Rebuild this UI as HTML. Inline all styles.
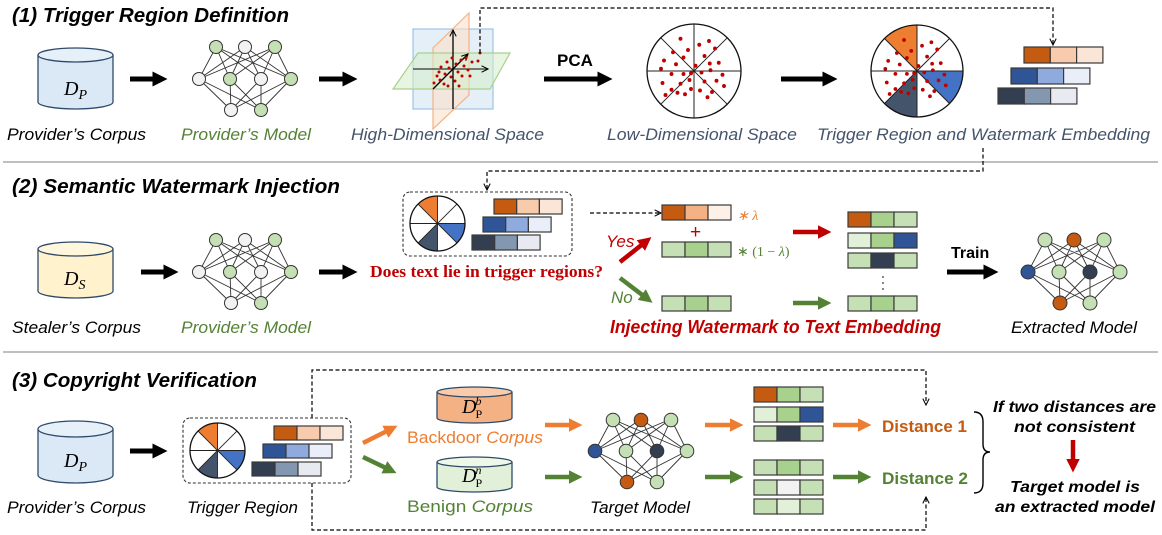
<!DOCTYPE html>
<html><head><meta charset="utf-8"><style>
html,body{margin:0;padding:0;background:#fff;}
svg{display:block;}
.t{font-family:"Liberation Sans",sans-serif;font-weight:bold;font-style:italic;font-size:20px;fill:#000;}
.l{font-family:"Liberation Sans",sans-serif;font-style:italic;font-size:17px;}
.m{font-family:"Liberation Serif",serif;font-style:italic;font-size:20px;}
.bar rect{stroke:#3a3a3a;stroke-width:1.2;}
</style></head><body>
<svg width="1162" height="535" viewBox="0 0 1162 535" xmlns="http://www.w3.org/2000/svg">
<defs>
<marker id="mb" viewBox="0 0 10 10" refX="3" refY="5" markerWidth="3" markerHeight="3" orient="auto" markerUnits="strokeWidth"><path d="M0,0 L10,5 L0,10 Z" fill="#000"/></marker>
<marker id="mo" viewBox="0 0 10 10" refX="3" refY="5" markerWidth="3" markerHeight="3" orient="auto" markerUnits="strokeWidth"><path d="M0,0 L10,5 L0,10 Z" fill="#ed7d31"/></marker>
<marker id="mg" viewBox="0 0 10 10" refX="3" refY="5" markerWidth="3" markerHeight="3" orient="auto" markerUnits="strokeWidth"><path d="M0,0 L10,5 L0,10 Z" fill="#548235"/></marker>
<marker id="mr" viewBox="0 0 10 10" refX="3" refY="5" markerWidth="3" markerHeight="3" orient="auto" markerUnits="strokeWidth"><path d="M0,0 L10,5 L0,10 Z" fill="#c00000"/></marker>
<marker id="md" viewBox="0 0 10 10" refX="9" refY="5" markerWidth="8" markerHeight="8" orient="auto" markerUnits="userSpaceOnUse"><path d="M1,1 L9,5 L1,9" fill="none" stroke="#000" stroke-width="1.3"/></marker>
<g id="nnl" stroke="#333" stroke-width="0.9">
<path d="M-29,-32 L-46,0 M-29,-32 L-15,0 M-29,-32 L16,0 M-29,-32 L46,0 M0,-32 L-46,0 M0,-32 L-15,0 M0,-32 L16,0 M0,-32 L46,0 M30,-32 L-46,0 M30,-32 L-15,0 M30,-32 L16,0 M30,-32 L46,0 M-46,0 L-14,31 M-46,0 L16,31 M-15,0 L-14,31 M-15,0 L16,31 M16,0 L-14,31 M16,0 L16,31 M46,0 L-14,31 M46,0 L16,31"/>
</g>
<g id="pie27">
<circle r="27.5" fill="#fff"/>
<path d="M0,0 L0,-27.5 A27.5,27.5 0 0,0 -19.45,-19.45 Z" fill="#ed7d31"/>
<path d="M0,0 L27.5,0 A27.5,27.5 0 0,1 19.45,19.45 Z" fill="#4472c4"/>
<path d="M0,0 L0,27.5 A27.5,27.5 0 0,1 -19.45,19.45 Z" fill="#44546a"/>
<path d="M-27.5,0 H27.5 M0,-27.5 V27.5 M-19.45,-19.45 L19.45,19.45 M19.45,-19.45 L-19.45,19.45" stroke="#222" stroke-width="0.9"/>
<circle r="27.5" fill="none" stroke="#111" stroke-width="1.3"/>
</g>
<g id="dots" fill="#c00000">
<circle cx="-18" cy="-43" r="2.6"/><circle cx="-8" cy="-28" r="2.6"/><circle cx="7" cy="-35" r="2.6"/><circle cx="20" cy="-40" r="2.6"/><circle cx="-28" cy="-25" r="2.6"/><circle cx="-40" cy="-14" r="2.6"/><circle cx="-24" cy="-9" r="2.6"/><circle cx="-14" cy="-18" r="2.6"/><circle cx="14" cy="-20" r="2.6"/><circle cx="28" cy="-30" r="2.6"/><circle cx="21" cy="-10" r="2.6"/><circle cx="33" cy="-11" r="2.6"/><circle cx="2" cy="-7" r="2.6"/><circle cx="-30" cy="4" r="2.6"/><circle cx="-44" cy="-3" r="2.6"/><circle cx="-14" cy="4" r="2.6"/><circle cx="-4" cy="3" r="2.6"/><circle cx="10" cy="2" r="2.6"/><circle cx="22" cy="-1" r="2.6"/><circle cx="38" cy="5" r="2.6"/><circle cx="-42" cy="16" r="2.6"/><circle cx="-18" cy="17" r="2.6"/><circle cx="-6" cy="12" r="2.6"/><circle cx="14" cy="14" r="2.6"/><circle cx="30" cy="13" r="2.6"/><circle cx="-30" cy="25" r="2.6"/><circle cx="-4" cy="24" r="2.6"/><circle cx="8" cy="26" r="2.6"/><circle cx="24" cy="28" r="2.6"/><circle cx="40" cy="20" r="2.6"/><circle cx="-22" cy="29" r="2.6"/><circle cx="-12" cy="31" r="2.6"/><circle cx="18" cy="35" r="2.6"/><circle cx="-38" cy="32" r="2.6"/></g>
</defs>

<!-- ============ SECTION 1 ============ -->
<text class="t" x="12" y="22" textLength="277" lengthAdjust="spacingAndGlyphs">(1) Trigger Region Definition</text>
<path d="M38,55 V102 A37.5,7 0 0,0 113,102 V55" fill="#dbe8f5" stroke="#2e4a6b" stroke-width="1.3"/>
<ellipse cx="75.5" cy="55" rx="37.5" ry="7" fill="#e6f0f9" stroke="#2e4a6b" stroke-width="1.3"/>
<text class="m" x="64" y="95">D<tspan font-size="14" dy="4">P</tspan></text>
<text class="l" x="7" y="140" textLength="139" lengthAdjust="spacingAndGlyphs">Provider’s Corpus</text>
<line x1="130" y1="79" x2="157" y2="79" stroke="#000" stroke-width="5" marker-end="url(#mb)"/>
<g transform="translate(245,79)"><use href="#nnl"/>
<g stroke="#333" stroke-width="1"><circle cx="-29" cy="-32" r="6.5" fill="#c5e0b4"/><circle cx="0" cy="-32" r="6.5" fill="#f2f2f2"/><circle cx="30" cy="-32" r="6.5" fill="#c5e0b4"/><circle cx="-46" cy="0" r="6.5" fill="#f2f2f2"/><circle cx="-15" cy="0" r="6.5" fill="#c5e0b4"/><circle cx="16" cy="0" r="6.5" fill="#f2f2f2"/><circle cx="46" cy="0" r="6.5" fill="#c5e0b4"/><circle cx="-14" cy="31" r="6.5" fill="#f2f2f2"/><circle cx="16" cy="31" r="6.5" fill="#c5e0b4"/></g></g>
<text class="l" x="181" y="140" fill="#548235" textLength="130" lengthAdjust="spacingAndGlyphs">Provider’s Model</text>
<line x1="319" y1="79" x2="347" y2="79" stroke="#000" stroke-width="5" marker-end="url(#mb)"/>
<rect x="413" y="29" width="80" height="80" fill="#dae8f5" fill-opacity="0.7" stroke="#9dc3e6" stroke-width="1.2"/>
<polygon points="433,48 469,13 469,95 433,129" fill="#fbe0cc" fill-opacity="0.6" stroke="#f4b183" stroke-width="1.2"/>
<polygon points="418,53 510,53 490,89 393,89" fill="#d6ecc9" fill-opacity="0.55" stroke="#a9d18e" stroke-width="1.2"/>
<line x1="413" y1="69" x2="488" y2="69" stroke="#333" stroke-width="1.3" marker-end="url(#md)"/>
<line x1="453" y1="109" x2="453" y2="30" stroke="#000" stroke-width="1.3" marker-end="url(#md)"/>
<line x1="433" y1="89" x2="468" y2="54" stroke="#000" stroke-width="1.3" marker-end="url(#md)"/>
<g fill="#c00000"><circle cx="440" cy="80" r="1.5"/><circle cx="445" cy="74" r="1.5"/><circle cx="449" cy="68" r="1.5"/><circle cx="456" cy="64" r="1.5"/><circle cx="461" cy="60" r="1.5"/><circle cx="464" cy="66" r="1.5"/><circle cx="458" cy="72" r="1.5"/><circle cx="451" cy="77" r="1.5"/><circle cx="444" cy="84" r="1.5"/><circle cx="437" cy="76" r="1.5"/><circle cx="441" cy="67" r="1.5"/><circle cx="447" cy="62" r="1.5"/><circle cx="455" cy="81" r="1.5"/><circle cx="462" cy="76" r="1.5"/><circle cx="468" cy="70" r="1.5"/><circle cx="472" cy="62" r="1.5"/><circle cx="478" cy="61" r="1.5"/><circle cx="434" cy="83" r="1.5"/><circle cx="448" cy="86" r="1.5"/><circle cx="459" cy="86" r="1.5"/><circle cx="466" cy="58" r="1.5"/><circle cx="452" cy="58" r="1.5"/><circle cx="439" cy="72" r="1.5"/><circle cx="470" cy="76" r="1.5"/><circle cx="480" cy="53" r="1.5"/></g>
<text class="l" x="351" y="140" fill="#44546a" textLength="193" lengthAdjust="spacingAndGlyphs">High-Dimensional Space</text>
<text x="557" y="66" font-family="Liberation Sans,sans-serif" font-weight="bold" font-size="17">PCA</text>
<line x1="544" y1="79" x2="602" y2="79" stroke="#000" stroke-width="5" marker-end="url(#mb)"/>
<g transform="translate(694,71)"><circle r="47" fill="#fff" stroke="#111" stroke-width="1.3"/>
<path d="M-47,0 H47 M0,-47 V47 M-33.2,-33.2 L33.2,33.2 M33.2,-33.2 L-33.2,33.2" stroke="#222" stroke-width="1"/><g transform="scale(0.75)"><use href="#dots"/></g></g>
<text class="l" x="607" y="140" fill="#44546a" textLength="190" lengthAdjust="spacingAndGlyphs">Low-Dimensional Space</text>
<line x1="781" y1="79" x2="827" y2="79" stroke="#000" stroke-width="5" marker-end="url(#mb)"/>
<g transform="translate(917,71)"><circle r="46" fill="#fff"/>
<path d="M0,0 L0,-46 A46,46 0 0,0 -32.5,-32.5 Z" fill="#ed7d31"/>
<path d="M0,0 L46,0 A46,46 0 0,1 32.5,32.5 Z" fill="#4472c4"/>
<path d="M0,0 L0,46 A46,46 0 0,1 -32.5,32.5 Z" fill="#44546a"/>
<path d="M-46,0 H46 M0,-46 V46 M-32.5,-32.5 L32.5,32.5 M32.5,-32.5 L-32.5,32.5" stroke="#222" stroke-width="1"/>
<circle r="46" fill="none" stroke="#111" stroke-width="1.3"/>
<g transform="scale(0.72)"><use href="#dots"/></g></g>
<g class="bar"><rect x="1024" y="47" width="26.3" height="16" fill="#c55a11"/><rect x="1050.3" y="47" width="26.3" height="16" fill="#f8cbad"/><rect x="1076.6" y="47" width="26.3" height="16" fill="#fbe5d6"/>
<rect x="1011" y="68" width="26.3" height="16" fill="#2f5597"/><rect x="1037.3" y="68" width="26.3" height="16" fill="#8faadc"/><rect x="1063.6" y="68" width="26.3" height="16" fill="#e9eef8"/>
<rect x="998" y="88" width="26.3" height="16" fill="#333f50"/><rect x="1024.3" y="88" width="26.3" height="16" fill="#8497b0"/><rect x="1050.6" y="88" width="26.3" height="16" fill="#e7ebf1"/></g>
<polyline points="480,53 480,8 1053,8 1053,45" fill="none" stroke="#000" stroke-width="1.2" stroke-dasharray="4,2.5" marker-end="url(#md)"/>
<text class="l" x="817" y="140" fill="#44546a" textLength="333" lengthAdjust="spacingAndGlyphs">Trigger Region and Watermark Embedding</text>
<line x1="3" y1="162" x2="1158" y2="162" stroke="#bfbfbf" stroke-width="2"/>

<!-- ============ SECTION 2 ============ -->
<text class="t" x="12" y="193" textLength="328" lengthAdjust="spacingAndGlyphs">(2) Semantic Watermark Injection</text>
<polyline points="983,148 983,171 487,171 487,190" fill="none" stroke="#000" stroke-width="1.2" stroke-dasharray="4,2.5" marker-end="url(#md)"/>
<path d="M38,249 V291 A37.5,7 0 0,0 113,291 V249" fill="#fff2cc" stroke="#2e4a6b" stroke-width="1.3"/>
<ellipse cx="75.5" cy="249" rx="37.5" ry="7" fill="#fff7dc" stroke="#2e4a6b" stroke-width="1.3"/>
<text class="m" x="64" y="285">D<tspan font-size="14" dy="4">S</tspan></text>
<text class="l" x="12" y="333" textLength="129" lengthAdjust="spacingAndGlyphs">Stealer’s Corpus</text>
<line x1="141" y1="272" x2="168" y2="272" stroke="#000" stroke-width="5" marker-end="url(#mb)"/>
<g transform="translate(245,272)"><use href="#nnl"/>
<g stroke="#333" stroke-width="1"><circle cx="-29" cy="-32" r="6.5" fill="#c5e0b4"/><circle cx="0" cy="-32" r="6.5" fill="#f2f2f2"/><circle cx="30" cy="-32" r="6.5" fill="#c5e0b4"/><circle cx="-46" cy="0" r="6.5" fill="#f2f2f2"/><circle cx="-15" cy="0" r="6.5" fill="#c5e0b4"/><circle cx="16" cy="0" r="6.5" fill="#f2f2f2"/><circle cx="46" cy="0" r="6.5" fill="#c5e0b4"/><circle cx="-14" cy="31" r="6.5" fill="#f2f2f2"/><circle cx="16" cy="31" r="6.5" fill="#c5e0b4"/></g></g>
<text class="l" x="181" y="333" fill="#548235" textLength="130" lengthAdjust="spacingAndGlyphs">Provider’s Model</text>
<line x1="319" y1="272" x2="347" y2="272" stroke="#000" stroke-width="5" marker-end="url(#mb)"/>
<rect x="403" y="192" width="169" height="64" rx="7" fill="#fff" stroke="#333" stroke-width="1.1" stroke-dasharray="3,2"/>
<use href="#pie27" transform="translate(437.5,223.5)"/>
<g class="bar"><rect x="494" y="199" width="22.7" height="15" fill="#c55a11"/><rect x="516.7" y="199" width="22.7" height="15" fill="#f8cbad"/><rect x="539.4" y="199" width="22.7" height="15" fill="#fbe5d6"/>
<rect x="483" y="217" width="22.7" height="15" fill="#2f5597"/><rect x="505.7" y="217" width="22.7" height="15" fill="#8faadc"/><rect x="528.4" y="217" width="22.7" height="15" fill="#e9eef8"/>
<rect x="472" y="235" width="22.7" height="15" fill="#333f50"/><rect x="494.7" y="235" width="22.7" height="15" fill="#8497b0"/><rect x="517.4" y="235" width="22.7" height="15" fill="#e7ebf1"/></g>
<text x="370" y="277" font-family="Liberation Serif,serif" font-weight="bold" font-size="17" fill="#c00000" textLength="233" lengthAdjust="spacingAndGlyphs">Does text lie in trigger regions?</text>
<line x1="590" y1="213" x2="661" y2="213" stroke="#000" stroke-width="1.2" stroke-dasharray="4,2.5" marker-end="url(#md)"/>
<g class="bar"><rect x="662" y="205" width="23" height="15" fill="#c55a11"/><rect x="685" y="205" width="23" height="15" fill="#f4b183"/><rect x="708" y="205" width="23" height="15" fill="#fdf0e8"/>
<rect x="662" y="242" width="23" height="15" fill="#c5e0b4"/><rect x="685" y="242" width="23" height="15" fill="#a9d18e"/><rect x="708" y="242" width="23" height="15" fill="#c5e0b4"/>
<rect x="662" y="296" width="23" height="15" fill="#c5e0b4"/><rect x="685" y="296" width="23" height="15" fill="#a9d18e"/><rect x="708" y="296" width="23" height="15" fill="#c5e0b4"/></g>
<text x="737" y="220" font-family="Liberation Serif,serif" font-style="italic" font-size="14" fill="#ed7d31">∗ λ</text>
<text x="690" y="238" font-family="Liberation Sans,sans-serif" font-size="19" fill="#c00000">+</text>
<text x="737" y="256" font-family="Liberation Serif,serif" font-size="14" fill="#548235">∗ (1 − <tspan font-style="italic">λ</tspan>)</text>
<line x1="620" y1="262" x2="644" y2="243" stroke="#c00000" stroke-width="4.5" marker-end="url(#mr)"/>
<text class="l" x="606" y="247" fill="#c00000" font-size="15">Yes</text>
<line x1="620" y1="278" x2="645" y2="297" stroke="#548235" stroke-width="4.5" marker-end="url(#mg)"/>
<text class="l" x="611" y="303" fill="#548235" font-size="15">No</text>
<line x1="793" y1="232" x2="822" y2="232" stroke="#c00000" stroke-width="4.5" marker-end="url(#mr)"/>
<line x1="793" y1="303" x2="822" y2="303" stroke="#548235" stroke-width="4.5" marker-end="url(#mg)"/>
<g class="bar"><rect x="848" y="212" width="23" height="15" fill="#c55a11"/><rect x="871" y="212" width="23" height="15" fill="#a9d18e"/><rect x="894" y="212" width="23" height="15" fill="#c5e0b4"/>
<rect x="848" y="233" width="23" height="15" fill="#e2f0d9"/><rect x="871" y="233" width="23" height="15" fill="#a9d18e"/><rect x="894" y="233" width="23" height="15" fill="#2f5597"/>
<rect x="848" y="253" width="23" height="15" fill="#c5e0b4"/><rect x="871" y="253" width="23" height="15" fill="#333f50"/><rect x="894" y="253" width="23" height="15" fill="#c5e0b4"/>
<rect x="848" y="296" width="23" height="15" fill="#c5e0b4"/><rect x="871" y="296" width="23" height="15" fill="#a9d18e"/><rect x="894" y="296" width="23" height="15" fill="#c5e0b4"/></g>
<g fill="#333"><circle cx="883" cy="277" r="0.9"/><circle cx="883" cy="283" r="0.9"/><circle cx="883" cy="289" r="0.9"/></g>
<text x="610" y="333" font-family="Liberation Sans,sans-serif" font-weight="bold" font-style="italic" font-size="18" fill="#c00000" textLength="331" lengthAdjust="spacingAndGlyphs">Injecting Watermark to Text Embedding</text>
<text x="951" y="258" font-family="Liberation Sans,sans-serif" font-weight="bold" font-size="16">Train</text>
<line x1="947" y1="272" x2="988" y2="272" stroke="#000" stroke-width="5" marker-end="url(#mb)"/>
<g transform="translate(1074,272)"><use href="#nnl"/>
<g stroke="#333" stroke-width="1"><circle cx="-29" cy="-32" r="7" fill="#c5e0b4"/><circle cx="0" cy="-32" r="7" fill="#c55a11"/><circle cx="30" cy="-32" r="7" fill="#c5e0b4"/><circle cx="-46" cy="0" r="7" fill="#2f5597"/><circle cx="-15" cy="0" r="7" fill="#c5e0b4"/><circle cx="16" cy="0" r="7" fill="#333f50"/><circle cx="46" cy="0" r="7" fill="#c5e0b4"/><circle cx="-14" cy="31" r="7" fill="#c55a11"/><circle cx="16" cy="31" r="7" fill="#c5e0b4"/></g></g>
<text class="l" x="1011" y="333" textLength="126" lengthAdjust="spacingAndGlyphs">Extracted Model</text>
<line x1="3" y1="352" x2="1158" y2="352" stroke="#bfbfbf" stroke-width="2"/>

<!-- ============ SECTION 3 ============ -->
<text class="t" x="12" y="387" textLength="245" lengthAdjust="spacingAndGlyphs">(3) Copyright Verification</text>
<path d="M38,429 V475 A37.5,8 0 0,0 113,475 V429" fill="#dbe8f5" stroke="#2e4a6b" stroke-width="1.3"/>
<ellipse cx="75.5" cy="429" rx="37.5" ry="8" fill="#e6f0f9" stroke="#2e4a6b" stroke-width="1.3"/>
<text class="m" x="64" y="467">D<tspan font-size="14" dy="4">P</tspan></text>
<text class="l" x="7" y="513" textLength="139" lengthAdjust="spacingAndGlyphs">Provider’s Corpus</text>
<line x1="130" y1="451" x2="157" y2="451" stroke="#000" stroke-width="5" marker-end="url(#mb)"/>
<polyline points="312,418 312,370 926,370 926,405" fill="none" stroke="#000" stroke-width="1.2" stroke-dasharray="4,2.5" marker-end="url(#md)"/>
<polyline points="312,483 312,530 926,530 926,497" fill="none" stroke="#000" stroke-width="1.2" stroke-dasharray="4,2.5" marker-end="url(#md)"/>
<rect x="183" y="418" width="168" height="65" rx="7" fill="#fff" stroke="#333" stroke-width="1.1" stroke-dasharray="3,2"/>
<use href="#pie27" transform="translate(217.5,450.5)"/>
<g class="bar"><rect x="274" y="426" width="23" height="14" fill="#c55a11"/><rect x="297" y="426" width="23" height="14" fill="#f8cbad"/><rect x="320" y="426" width="23" height="14" fill="#fbe5d6"/>
<rect x="263" y="444" width="23" height="14" fill="#2f5597"/><rect x="286" y="444" width="23" height="14" fill="#8faadc"/><rect x="309" y="444" width="23" height="14" fill="#e9eef8"/>
<rect x="252" y="462" width="23" height="14" fill="#333f50"/><rect x="275" y="462" width="23" height="14" fill="#8497b0"/><rect x="298" y="462" width="23" height="14" fill="#e7ebf1"/></g>
<text class="l" x="187" y="513" textLength="111" lengthAdjust="spacingAndGlyphs">Trigger Region</text>
<line x1="363" y1="443" x2="389" y2="430" stroke="#ed7d31" stroke-width="4.5" marker-end="url(#mo)"/>
<line x1="363" y1="457" x2="388" y2="469" stroke="#548235" stroke-width="4.5" marker-end="url(#mg)"/>
<path d="M437,392 V418 A37.5,5 0 0,0 512,418 V392" fill="#f4b183" stroke="#2e4a6b" stroke-width="1.3"/>
<ellipse cx="474.5" cy="392" rx="37.5" ry="5" fill="#f8cbad" stroke="#2e4a6b" stroke-width="1.3"/>
<text class="m" x="462" y="413" font-size="18">D<tspan font-size="12" dx="-1" dy="-8">b</tspan><tspan font-size="12" dx="-6" dy="13" font-style="normal">P</tspan></text>
<text x="407" y="443" font-family="Liberation Sans,sans-serif" font-size="17" fill="#ed7d31" textLength="136" lengthAdjust="spacingAndGlyphs">Backdoor <tspan font-style="italic">Corpus</tspan></text>
<path d="M437,462 V487 A37.5,5 0 0,0 512,487 V462" fill="#e2f0d9" stroke="#2e4a6b" stroke-width="1.3"/>
<ellipse cx="474.5" cy="462" rx="37.5" ry="5" fill="#eef7e8" stroke="#2e4a6b" stroke-width="1.3"/>
<text class="m" x="462" y="482" font-size="18">D<tspan font-size="12" dx="-1" dy="-8">n</tspan><tspan font-size="12" dx="-6" dy="13" font-style="normal">P</tspan></text>
<text x="407" y="512" font-family="Liberation Sans,sans-serif" font-size="17" fill="#548235" textLength="126" lengthAdjust="spacingAndGlyphs">Benign <tspan font-style="italic">Corpus</tspan></text>
<line x1="545" y1="425" x2="573" y2="425" stroke="#ed7d31" stroke-width="4.5" marker-end="url(#mo)"/>
<line x1="545" y1="477" x2="573" y2="477" stroke="#548235" stroke-width="4.5" marker-end="url(#mg)"/>
<g transform="translate(641,451)"><use href="#nnl"/>
<g stroke="#333" stroke-width="1"><circle cx="-28" cy="-31" r="6.8" fill="#c5e0b4"/><circle cx="0" cy="-31" r="6.8" fill="#c55a11"/><circle cx="30" cy="-31" r="6.8" fill="#c5e0b4"/><circle cx="-46" cy="0" r="6.8" fill="#2f5597"/><circle cx="-15" cy="0" r="6.8" fill="#c5e0b4"/><circle cx="16" cy="0" r="6.8" fill="#333f50"/><circle cx="46" cy="0" r="6.8" fill="#c5e0b4"/><circle cx="-14" cy="31" r="6.8" fill="#c55a11"/><circle cx="16" cy="31" r="6.8" fill="#c5e0b4"/></g></g>
<text class="l" x="590" y="513" textLength="100" lengthAdjust="spacingAndGlyphs">Target Model</text>
<line x1="705" y1="425" x2="734" y2="425" stroke="#ed7d31" stroke-width="4.5" marker-end="url(#mo)"/>
<line x1="705" y1="477" x2="734" y2="477" stroke="#548235" stroke-width="4.5" marker-end="url(#mg)"/>
<g class="bar"><rect x="754" y="387" width="23" height="15" fill="#c55a11"/><rect x="777" y="387" width="23" height="15" fill="#a9d18e"/><rect x="800" y="387" width="23" height="15" fill="#c5e0b4"/>
<rect x="754" y="407" width="23" height="15" fill="#e2f0d9"/><rect x="777" y="407" width="23" height="15" fill="#a9d18e"/><rect x="800" y="407" width="23" height="15" fill="#2f5597"/>
<rect x="754" y="426" width="23" height="15" fill="#c5e0b4"/><rect x="777" y="426" width="23" height="15" fill="#333f50"/><rect x="800" y="426" width="23" height="15" fill="#c5e0b4"/>
<rect x="754" y="460" width="23" height="15" fill="#c5e0b4"/><rect x="777" y="460" width="23" height="15" fill="#a9d18e"/><rect x="800" y="460" width="23" height="15" fill="#c5e0b4"/>
<rect x="754" y="480" width="23" height="15" fill="#c5e0b4"/><rect x="777" y="480" width="23" height="15" fill="#f2f2f2"/><rect x="800" y="480" width="23" height="15" fill="#c5e0b4"/>
<rect x="754" y="499" width="23" height="15" fill="#c5e0b4"/><rect x="777" y="499" width="23" height="15" fill="#e2f0d9"/><rect x="800" y="499" width="23" height="15" fill="#c5e0b4"/></g>
<line x1="833" y1="425" x2="862" y2="425" stroke="#ed7d31" stroke-width="4.5" marker-end="url(#mo)"/>
<line x1="833" y1="477" x2="862" y2="477" stroke="#548235" stroke-width="4.5" marker-end="url(#mg)"/>
<text x="882" y="432" font-family="Liberation Sans,sans-serif" font-weight="bold" font-size="17" fill="#c55a11" textLength="85" lengthAdjust="spacingAndGlyphs">Distance 1</text>
<text x="882" y="484" font-family="Liberation Sans,sans-serif" font-weight="bold" font-size="17" fill="#548235" textLength="86" lengthAdjust="spacingAndGlyphs">Distance 2</text>
<path d="M974,412 Q983,412 983,422 V444 Q983,452 990,452 Q983,452 983,460 V483 Q983,493 974,493" fill="none" stroke="#000" stroke-width="1.4"/>
<g font-family="Liberation Sans,sans-serif" font-weight="bold" font-style="italic" font-size="16" fill="#000">
<text x="993" y="412" textLength="163" lengthAdjust="spacingAndGlyphs">If two distances are</text>
<text x="1014" y="432" textLength="121" lengthAdjust="spacingAndGlyphs">not consistent</text>
<text x="1010" y="492" textLength="130" lengthAdjust="spacingAndGlyphs">Target model is</text>
<text x="995" y="512" textLength="160" lengthAdjust="spacingAndGlyphs">an extracted model</text></g>
<line x1="1073" y1="440" x2="1073" y2="463" stroke="#c00000" stroke-width="4.5" marker-end="url(#mr)"/>
</svg>
</body></html>
